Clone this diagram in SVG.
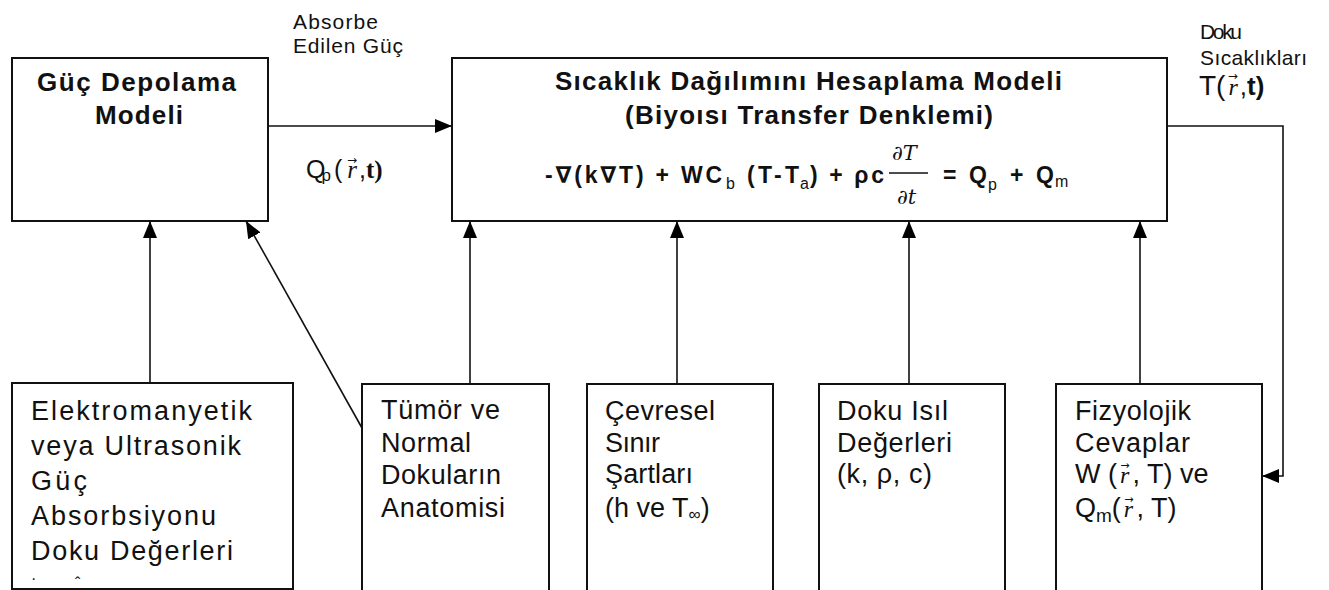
<svg xmlns="http://www.w3.org/2000/svg" width="1329" height="590" viewBox="0 0 1329 590">
<style>
  .box { fill: #fff; stroke: #111; stroke-width: 2; }
  .ln { fill: none; stroke: #111; stroke-width: 1.6; }
  .t { font-family: "Liberation Sans", Arial, sans-serif; font-size: 27px; fill: #111; }
  .s { font-family: "Liberation Sans", Arial, sans-serif; font-size: 21px; fill: #111; }
  .b { font-family: "Liberation Sans", Arial, sans-serif; font-weight: bold; font-size: 26px; fill: #111; }
  .eq { font-family: "Liberation Sans", "DejaVu Sans", sans-serif; font-weight: bold; font-size: 23px; fill: #111; }
  .sub { font-family: "Liberation Sans", Arial, sans-serif; font-weight: normal; font-size: 16px; fill: #111; }
  .vec { font-family: "Liberation Serif", "DejaVu Serif", serif; font-style: italic; }
  .arr { font-family: "DejaVu Sans", sans-serif; font-style: normal; font-weight: normal; }
  .it { font-family: "DejaVu Serif", "Liberation Serif", serif; font-style: italic; font-size: 21px; fill: #111; }
</style>
<defs>
  <marker id="ah" markerUnits="userSpaceOnUse" markerWidth="18" markerHeight="14" refX="17" refY="7" orient="auto">
    <path d="M0,0 L17,7 L0,14 z" fill="#000"/>
  </marker>
</defs>

<g id="connectors">
  <line class="ln" x1="266" y1="126" x2="452" y2="126" marker-end="url(#ah)"/>
  <polyline class="ln" points="1167,126 1283,126 1283,476 1262,476" marker-end="url(#ah)"/>
  <line class="ln" x1="150" y1="383" x2="150" y2="221" marker-end="url(#ah)"/>
  <line class="ln" x1="362" y1="428" x2="246" y2="221" marker-end="url(#ah)"/>
  <line class="ln" x1="470" y1="384" x2="470" y2="221" marker-end="url(#ah)"/>
  <line class="ln" x1="677" y1="384" x2="677" y2="221" marker-end="url(#ah)"/>
  <line class="ln" x1="909" y1="384" x2="909" y2="221" marker-end="url(#ah)"/>
  <line class="ln" x1="1140" y1="384" x2="1140" y2="221" marker-end="url(#ah)"/>
</g>

<g id="labels">
  <text class="s" x="293" y="29" textLength="85" lengthAdjust="spacing">Absorbe</text>
  <text class="s" x="293" y="53" textLength="110" lengthAdjust="spacing">Edilen Güç</text>
  <text class="s" x="306" y="178" style="font-size:25px">Q<tspan class="sub" style="font-size:17px" dx="-4" dy="3">p</tspan><tspan dy="-3" dx="3">(</tspan><tspan class="vec" dx="5">r</tspan><tspan class="arr" font-size="12" dx="-10" dy="-14">→</tspan><tspan dx="2" dy="14">,</tspan><tspan font-family="Liberation Serif, serif" font-weight="bold">t)</tspan></text>
  <text class="s" x="1200" y="39" textLength="42" lengthAdjust="spacing">Doku</text>
  <text class="s" x="1200" y="65" textLength="107" lengthAdjust="spacing">Sıcaklıkları</text>
  <text class="s" x="1199" y="95" style="font-size:28px">T(<tspan class="vec" font-size="24" dx="3">r</tspan><tspan class="arr" font-size="12" dx="-10" dy="-15">→</tspan><tspan font-size="26" dx="2" dy="15">,</tspan><tspan font-weight="bold" font-size="26">t)</tspan></text>
</g>

<g id="node-guc">
  <rect class="box" x="12" y="58" width="256" height="163"/>
  <text class="b" x="37" y="91" textLength="199" lengthAdjust="spacing">Güç Depolama</text>
  <text class="b" x="95" y="124" textLength="88" lengthAdjust="spacing">Modeli</text>
</g>

<g id="node-model">
  <rect class="box" x="452" y="58" width="715" height="163"/>
  <text class="b" x="555" y="90" textLength="507" lengthAdjust="spacing">Sıcaklık Dağılımını Hesaplama Modeli</text>
  <text class="b" x="625" y="124" textLength="368" lengthAdjust="spacing">(Biyoısı Transfer Denklemi)</text>
  <text class="eq" x="545" y="183" textLength="177" lengthAdjust="spacing">-∇(k∇T) + WC</text>
  <text class="sub" x="726" y="189">b</text>
  <text class="eq" x="747" y="183" textLength="52" lengthAdjust="spacing">(T-T</text>
  <text class="sub" x="800" y="189">a</text>
  <text class="eq" x="810" y="183" textLength="74" lengthAdjust="spacing">) + ρc</text>
  <line x1="889" y1="173" x2="928" y2="173" stroke="#111" stroke-width="1.5"/>
  <text class="it" x="892" y="160">∂T</text>
  <text class="it" x="897" y="204">∂t</text>
  <text class="eq" x="943" y="183">=</text>
  <text class="eq" x="969" y="183">Q</text>
  <text class="sub" x="988" y="190">p</text>
  <text class="eq" x="1010" y="183">+</text>
  <text class="eq" x="1036" y="183">Q</text>
  <text class="sub" x="1055" y="187">m</text>
</g>

<g id="node-em">
  <rect class="box" x="12" y="383" width="281" height="206"/>
  <text class="t" x="31" y="420" textLength="221" lengthAdjust="spacing">Elektromanyetik</text>
  <text class="t" x="31" y="455" textLength="210" lengthAdjust="spacing">veya Ultrasonik</text>
  <text class="t" x="31" y="490" textLength="56" lengthAdjust="spacing">Güç</text>
  <text class="t" x="31" y="525" textLength="185" lengthAdjust="spacing">Absorbsiyonu</text>
  <text class="t" x="31" y="560" textLength="202" lengthAdjust="spacing">Doku Değerleri</text>
  <text class="t" x="31" y="584" style="font-size:16px">·</text>
  <text class="t" x="75" y="589" style="font-size:16px">ˆ</text>
</g>

<g id="node-tumor">
  <rect class="box" x="362" y="384" width="187" height="220"/>
  <text class="t" x="381" y="419" textLength="119" lengthAdjust="spacing">Tümör ve</text>
  <text class="t" x="381" y="452" textLength="90" lengthAdjust="spacing">Normal</text>
  <text class="t" x="381" y="484" textLength="120" lengthAdjust="spacing">Dokuların</text>
  <text class="t" x="381" y="517" textLength="124" lengthAdjust="spacing">Anatomisi</text>
</g>

<g id="node-cevre">
  <rect class="box" x="587" y="384" width="186" height="220"/>
  <text class="t" x="605" y="420" textLength="110" lengthAdjust="spacing">Çevresel</text>
  <text class="t" x="605" y="452" textLength="55" lengthAdjust="spacing">Sınır</text>
  <text class="t" x="605" y="483" textLength="88" lengthAdjust="spacing">Şartları</text>
  <text class="t" x="605" y="517">(h ve T<tspan font-size="17" dy="3">∞</tspan><tspan dy="-3">)</tspan></text>
</g>

<g id="node-doku">
  <rect class="box" x="819" y="384" width="186" height="220"/>
  <text class="t" x="837" y="420" textLength="111" lengthAdjust="spacing">Doku Isıl</text>
  <text class="t" x="837" y="452" textLength="115" lengthAdjust="spacing">Değerleri</text>
  <text class="t" x="837" y="483" textLength="95" lengthAdjust="spacing">(k, ρ, c)</text>
</g>

<g id="node-fizyo">
  <rect class="box" x="1056" y="384" width="206" height="220"/>
  <text class="t" x="1075" y="420" textLength="116" lengthAdjust="spacing">Fizyolojik</text>
  <text class="t" x="1075" y="452" textLength="115" lengthAdjust="spacing">Cevaplar</text>
  <text class="t" x="1075" y="483">W (<tspan class="vec" font-size="24" dx="3">r</tspan><tspan class="arr" font-size="11" dx="-9" dy="-14">→</tspan><tspan dx="3" dy="14">, T) ve</tspan></text>
  <text class="t" x="1075" y="517">Q<tspan font-size="19" dy="5">m</tspan><tspan dy="-5">(</tspan><tspan class="vec" font-size="24" dx="3">r</tspan><tspan class="arr" font-size="11" dx="-9" dy="-14">→</tspan><tspan dx="3" dy="14">, T)</tspan></text>
</g>
</svg>
